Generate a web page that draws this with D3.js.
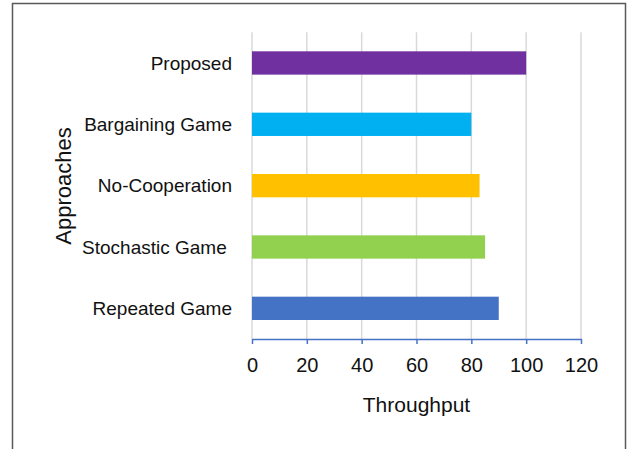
<!DOCTYPE html>
<html>
<head>
<meta charset="utf-8">
<script src="https://cdn.jsdelivr.net/npm/d3@7"></script>
<style>
  html, body { margin: 0; padding: 0; background: #fff; }
  svg { display: block; }
  text { font-family: "Liberation Sans", Arial, sans-serif; fill: #111; }
</style>
</head>
<body>
<svg id="chart" width="633" height="449"></svg>
<script>
// Throughput by approach (top to bottom as displayed)
const approaches = ["Proposed", "Bargaining Game", "No-Cooperation", "Stochastic Game ", "Repeated Game"];
const throughput = [100, 80, 83, 85, 90];
const barColors = ["#7030A0", "#00B0F0", "#FFC000", "#92D050", "#4472C4"];
const xTicks = [0, 20, 40, 60, 80, 100, 120];

const svg = d3.select("#chart");

// Outer frame
svg.append("rect")
  .attr("x", 12.5).attr("y", 3.5)
  .attr("width", 613).attr("height", 520)
  .attr("fill", "none")
  .attr("stroke", "#595959")
  .attr("stroke-width", 1.5);

const plot = { left: 252, right: 581, top: 32.3, bottom: 339 };

const x = d3.scaleLinear().domain([0, 120]).range([plot.left, plot.right]);
const y = d3.scaleBand()
  .domain(approaches)
  .range([plot.top, plot.bottom])
  .paddingInner(0.62)
  .paddingOuter(0.31);

// Vertical gridlines
svg.append("g")
  .selectAll("line")
  .data(xTicks)
  .join("line")
  .attr("x1", d => x(d)).attr("x2", d => x(d))
  .attr("y1", plot.top).attr("y2", plot.bottom)
  .attr("stroke", "#d9d9d9")
  .attr("stroke-width", 1.5);

// Bars
svg.append("g")
  .selectAll("rect")
  .data(approaches)
  .join("rect")
  .attr("x", x(0))
  .attr("y", d => y(d))
  .attr("width", (d, i) => x(throughput[i]) - x(0))
  .attr("height", y.bandwidth())
  .attr("fill", (d, i) => barColors[i]);

// X axis
const xAxis = svg.append("g")
  .attr("transform", `translate(0,${plot.bottom})`)
  .call(d3.axisBottom(x).tickValues(xTicks).tickSizeInner(5).tickSizeOuter(0).tickPadding(14));
xAxis.select(".domain").attr("stroke", "#4472C4").attr("stroke-width", 1.5);
xAxis.selectAll(".tick line").attr("stroke", "#4472C4").attr("stroke-width", 1.5);
xAxis.selectAll(".tick text")
  .attr("font-size", 20)
  .attr("font-family", "Liberation Sans, Arial, sans-serif")
  .attr("fill", "#111");

// Category labels
svg.append("g")
  .selectAll("text")
  .data(approaches)
  .join("text")
  .attr("x", 232)
  .attr("y", d => y(d) + y.bandwidth() / 2)
  .attr("dy", "0.35em")
  .attr("text-anchor", "end")
  .style("white-space", "pre")
  .attr("font-size", 19)
  .text(d => d);

// Axis titles
svg.append("text")
  .attr("x", x(60))
  .attr("y", 412)
  .attr("text-anchor", "middle")
  .attr("font-size", 21)
  .text("Throughput");

svg.append("text")
  .attr("transform", `translate(71,186) rotate(-90)`)
  .attr("text-anchor", "middle")
  .attr("font-size", 22)
  .text("Approaches");
</script>
</body>
</html>
